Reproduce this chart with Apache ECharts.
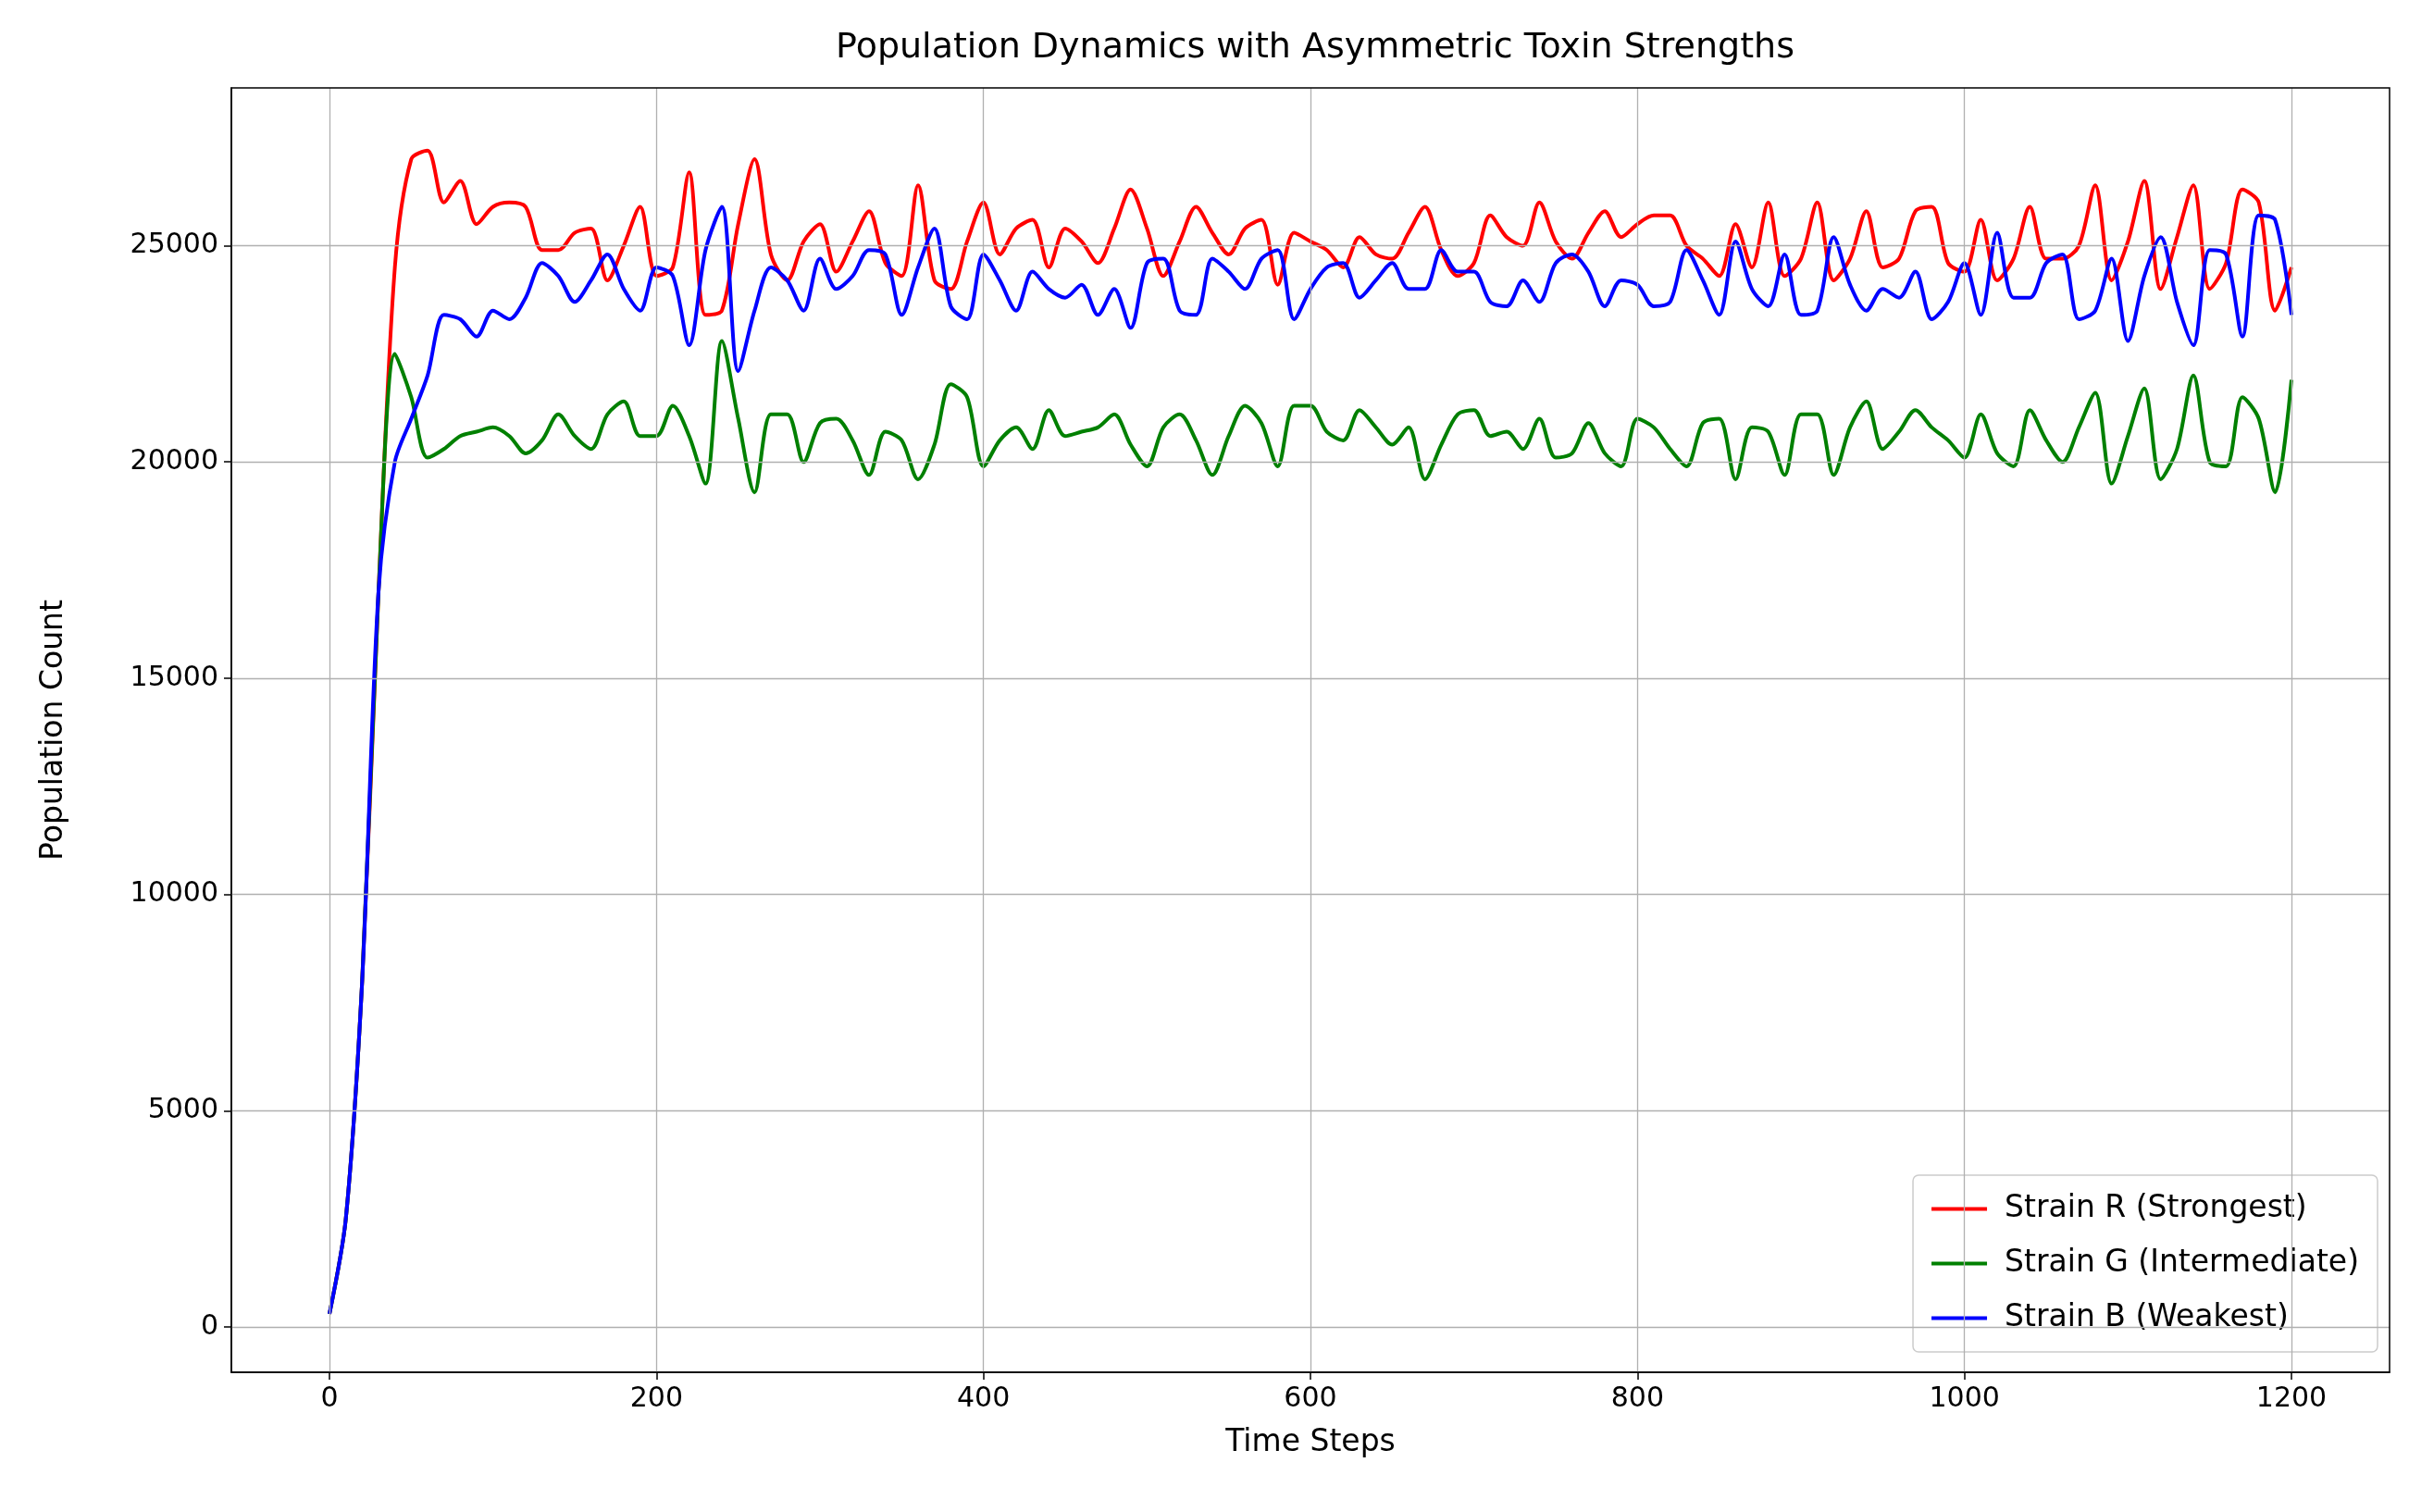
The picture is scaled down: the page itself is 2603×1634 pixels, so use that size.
<!DOCTYPE html>
<html>
<head>
<meta charset="utf-8">
<script src="https://cdn.jsdelivr.net/npm/echarts@6/dist/echarts.min.js"></script>
<style>html,body{margin:0;background:#fff}#c{width:2603px;height:1634px}</style>
</head>
<body>
<div id="c"></div>
<script>
// time steps, one sample every 10 steps
const steps = [];
for (let t = 0; t <= 1200; t += 10) steps.push(t);

const strainR = [300,2500,8000,17000,24500,27000,27200,26000,26500,25500,25900,26000,25900,24900,24900,25300,25400,24200,25000,25900,
  24300,24500,26700,23400,23500,25500,27000,24800,24200,25100,25500,24400,25100,25800,24600,24300,26400,24200,24000,25100,
  26000,24800,25400,25600,24500,25400,25100,24600,25400,26300,25400,24300,25100,25900,25300,24800,25400,25600,24100,25300,
  25100,24900,24500,25200,24800,24700,25300,25900,24900,24300,24600,25700,25200,25000,26000,25100,24700,25300,25800,25200,
  25500,25700,25700,25000,24700,24300,25500,24500,26000,24300,24700,26000,24200,24700,25800,24500,24700,25800,25900,24600,
  24400,25600,24200,24700,25900,24700,24700,25000,26400,24200,25100,26500,24000,25200,26400,24000,24600,26300,26000,23500,24500];

const strainG = [300,2500,8000,17000,22500,21500,20100,20300,20600,20700,20800,20600,20200,20500,21100,20600,20300,21100,21400,20600,
  20600,21300,20600,19500,22800,21000,19300,21100,21100,20000,20900,21000,20500,19700,20700,20500,19600,20400,21800,21500,
  19900,20500,20800,20300,21200,20600,20700,20800,21100,20400,19900,20800,21100,20500,19700,20600,21300,20900,19900,21300,
  21300,20700,20500,21200,20800,20400,20800,19600,20400,21100,21200,20600,20700,20300,21000,20100,20200,20900,20200,19900,
  21000,20800,20300,19900,20900,21000,19600,20800,20700,19700,21100,21100,19700,20800,21400,20300,20700,21200,20800,20500,
  20100,21100,20200,19900,21200,20500,20000,20800,21600,19500,20600,21700,19600,20300,22000,20000,19900,21500,21000,19300,21900];

const strainB = [300,2500,8000,17000,20000,21000,22000,23400,23300,22900,23500,23300,23800,24600,24300,23700,24200,24800,24000,23500,
  24500,24300,22700,24900,25900,22100,23500,24500,24200,23500,24700,24000,24300,24900,24800,23400,24500,25400,23600,23300,
  24800,24200,23500,24400,24000,23800,24100,23400,24000,23100,24600,24700,23500,23400,24700,24400,24000,24700,24900,23300,
  24000,24500,24600,23800,24200,24600,24000,24000,24900,24400,24400,23700,23600,24200,23700,24600,24800,24400,23600,24200,
  24100,23600,23700,24900,24200,23400,25100,24000,23600,24800,23400,23500,25200,24100,23500,24000,23800,24400,23300,23700,
  24600,23400,25300,23800,23800,24600,24800,23300,23500,24700,22800,24300,25200,23700,22700,24900,24800,22900,25700,25600,23400];

const xTicks = [0, 200, 400, 600, 800, 1000, 1200];
const yTicks = [0, 5000, 10000, 15000, 20000, 25000];

const font = 'DejaVu Sans';
const gridLine = { color: '#b0b0b0', width: 1.3, type: 'solid' };

const pair = (ys) => steps.map((t, i) => [t, ys[i]]);

const lineSeries = (name, ys, color) => ({
    name: name,
    type: 'line',
    data: pair(ys),
    showSymbol: false,
    smooth: 0.3,
    lineStyle: { color: color, width: 4 },
    itemStyle: { color: color },
    z: 3
});

const chart = echarts.init(document.getElementById('c'));
chart.setOption({
    animation: false,
    backgroundColor: '#fff',
    title: {
        text: 'Population Dynamics with Asymmetric Toxin Strengths',
        left: 1416, top: 28, textAlign: 'center',
        textStyle: { fontFamily: font, fontSize: 38, fontWeight: 'normal', color: '#000' }
    },
    grid: { left: 250, right: 21, top: 95, bottom: 151 },
    legend: {
        orient: 'vertical', right: 34, bottom: 173,
        itemWidth: 60, itemHeight: 4, itemGap: 26,
        padding: [20, 20, 20, 20],
        borderColor: '#ccc', borderWidth: 1.5, borderRadius: 6,
        backgroundColor: 'rgba(255,255,255,0.8)',
        icon: 'rect',
        textStyle: { fontFamily: font, fontSize: 33, color: '#000', padding: [0, 0, 0, 14] }
    },
    xAxis: {
        type: 'value', min: -60, max: 1260,
        name: 'Time Steps', nameLocation: 'middle', nameGap: 60,
        nameTextStyle: { fontFamily: font, fontSize: 33, color: '#000' },
        axisLine: { onZero: false, lineStyle: { color: '#000', width: 1.5 } },
        axisTick: { show: true, length: 8, customValues: xTicks, lineStyle: { color: '#000', width: 1.5 } },
        axisLabel: { customValues: xTicks, formatter: v => String(v), fontFamily: font, fontSize: 30, color: '#000', margin: 14 },
        splitLine: { show: false }
    },
    yAxis: {
        type: 'value', min: -1050, max: 28650,
        name: 'Population Count', nameLocation: 'middle', nameGap: 175,
        nameTextStyle: { fontFamily: font, fontSize: 33, color: '#000' },
        axisLine: { show: true, onZero: false, lineStyle: { color: '#000', width: 1.5 } },
        axisTick: { show: true, length: 8, customValues: yTicks, lineStyle: { color: '#000', width: 1.5 } },
        axisLabel: { customValues: yTicks, formatter: v => String(v), fontFamily: font, fontSize: 30, color: '#000', margin: 14 },
        splitLine: { show: false }
    },
    series: [
        {
            type: 'line', data: [], silent: true,
            markLine: {
                silent: true, symbol: 'none', label: { show: false },
                lineStyle: gridLine,
                data: xTicks.map(v => ({ xAxis: v })).concat(yTicks.map(v => ({ yAxis: v })))
            },
            z: 1
        },
        lineSeries('Strain R (Strongest)', strainR, '#ff0000'),
        lineSeries('Strain G (Intermediate)', strainG, '#008000'),
        lineSeries('Strain B (Weakest)', strainB, '#0000ff')
    ],
    // right and top spines
    graphic: [{
        type: 'rect', shape: { x: 250, y: 95, width: 2332, height: 1388 },
        style: { fill: 'none', stroke: '#000', lineWidth: 1.5 }, silent: true, z: 100
    }]
});
</script>
</body>
</html>
